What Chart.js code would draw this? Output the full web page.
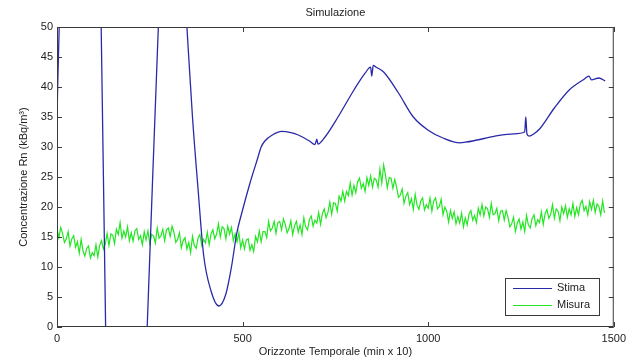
<!DOCTYPE html>
<html>
<head>
<meta charset="utf-8">
<script src="https://cdn.jsdelivr.net/npm/chart.js@4.4.1/dist/chart.umd.min.js"></script>
<style>
  html, body { margin: 0; padding: 0; background: #fff; }
  #wrap { width: 631px; height: 362px; }
</style>
</head>
<body>
<div id="wrap"><canvas id="js--grafico"></canvas></div>
<script>
const titolo = "Simulazione";
const labelX = "Orizzonte Temporale (min x 10)";
const labelY = "Concentrazione Rn (kBq/m³)";
const serieNomi = ["Stima", "Misura"];
const ticksX = [0, 500, 1000, 1500];
const ticksY = [0, 5, 10, 15, 20, 25, 30, 35, 40, 45, 50];

// stima: tempo e valore (fuori scala viene tagliato)
const stimaT = [0, 8, 40, 80, 110, 119, 131, 150, 190, 230, 243, 273, 290, 320, 345, 350, 365, 380, 395, 415, 436, 455, 470, 484, 500, 520, 540, 550, 560, 580, 605, 630, 650, 680, 695, 700, 703, 720, 757, 800, 830, 845, 848, 852, 860, 880, 920, 960, 1000, 1040, 1086, 1100, 1120, 1180, 1230, 1260, 1263, 1266, 1272, 1285, 1300, 1340, 1380, 1420, 1433, 1440, 1460, 1477];
const stimaV = [35, 55, 85, 70, 57, 50, 0, -20, -40, -15, 0, 50, 65, 70, 55, 50, 35, 23, 12, 6, 3.5, 5.5, 10, 15.5, 19.5, 24, 28, 30, 31, 32, 32.6, 32.4, 32, 31, 30.4, 31.3, 30.5, 31.5, 35, 39.5, 42.3, 43.3, 41.8, 43.6, 43.3, 42.5, 39, 35, 32.8, 31.5, 30.7, 30.8, 31, 31.8, 32.2, 32.5, 35, 32.2, 31.8, 32.2, 33, 36.5, 39.5, 41.3, 41.8, 41.2, 41.5, 41];

// misura: un valore ogni 5 passi, da 0
const misuraPasso = 5;
const misuraV = [
  16.3,14.9,16.6,15.6,14.1,14.7,15.9,13.5,14.7,15.2,13.3,14.2,12.3,14.6,12.7,11.8,13.1,13.5,11.5,12.4,
  11.9,13.7,11.7,13.6,14.4,13.0,13.8,15.6,13.6,15.5,15.3,13.9,16.3,15.4,17.4,14.8,16.0,15.0,16.7,14.4,
  15.7,14.3,16.0,16.4,14.6,15.2,13.7,15.9,14.5,16.0,13.9,15.4,15.2,14.0,16.5,14.8,15.2,16.3,14.4,16.2,
  16.5,15.1,16.8,15.8,14.1,14.6,15.7,13.2,14.4,14.9,13.0,14.1,12.4,15.1,13.6,13.1,14.8,15.4,13.6,14.6,
  14.0,15.8,13.7,15.5,16.2,14.7,15.5,17.2,15.0,16.7,16.4,14.7,16.8,15.5,16.6,14.4,15.5,14.2,15.7,13.2,
  14.5,13.0,14.5,14.7,12.8,13.7,12.6,15.1,14.2,16.0,14.2,15.9,15.9,14.9,17.6,16.0,16.5,17.6,15.6,17.4,
  17.6,16.2,18.0,17.1,15.7,16.4,17.7,15.4,16.9,17.6,15.8,17.0,15.4,18.2,16.7,16.2,17.9,18.5,16.8,17.8,
  17.3,19.1,17.1,18.9,19.7,18.2,19.1,20.8,18.8,20.7,20.6,19.3,21.8,21.0,22.6,21.0,22.6,21.9,24.0,22.0,
  23.6,22.4,24.2,24.8,23.1,23.9,22.6,24.9,23.6,25.2,23.3,24.8,24.5,23.3,26.3,24.0,27.0,25.3,23.2,24.9,
  24.8,23.1,24.6,23.3,21.6,22.0,23.0,20.6,21.8,22.4,20.4,21.4,19.6,22.1,20.3,19.6,21.0,21.5,19.5,20.4,
  19.8,21.5,19.3,21.0,21.5,19.7,20.1,21.3,18.7,20.0,19.3,17.5,19.4,18.1,19.2,17.2,18.4,17.3,19.0,16.7,
  18.2,17.0,18.8,19.4,17.8,18.6,17.4,19.8,18.7,20.4,18.5,20.0,19.7,18.3,20.6,18.7,18.9,19.8,17.7,19.3,
  19.4,17.8,19.4,18.3,16.7,17.2,18.3,15.9,17.3,18.0,16.3,17.5,15.9,18.6,17.0,16.5,18.1,18.7,16.9,17.9,
  17.4,19.2,17.1,18.9,19.6,18.1,18.8,20.4,18.1,19.7,19.3,17.7,20.0,18.9,20.2,18.3,19.7,18.7,20.6,18.4,
  19.9,18.7,20.5,21.1,19.4,20.1,18.7,20.9,19.6,21.1,19.1,20.5,20.1,18.7,21.0,19.0
];

const font = "'Liberation Sans', Arial, sans-serif";
const testo = "#222";
const assi = "#3a3a3a";

const stimaData = stimaT.map(function(t, i){ return {x: t, y: stimaV[i]}; });
const misuraData = misuraV.map(function(v, i){ return {x: i * misuraPasso, y: v}; });

// box + tacche verso l'interno, titolo e legenda (stile matlab)
const matlabStyle = {
  id: "matlabStyle",
  afterDraw: function(chart){
    const ctx = chart.ctx;
    const a = chart.chartArea;
    const sx = chart.scales.x;
    const sy = chart.scales.y;
    const tl = 5;
    ctx.save();
    ctx.strokeStyle = assi;
    ctx.lineWidth = 1;
    ctx.strokeRect(a.left + 0.5, a.top + 0.5, a.right - a.left - 1, a.bottom - a.top - 1);
    ctx.beginPath();
    ticksX.forEach(function(v){
      const px = Math.round(sx.getPixelForValue(v)) + 0.5;
      ctx.moveTo(px, a.bottom); ctx.lineTo(px, a.bottom - tl);
      ctx.moveTo(px, a.top); ctx.lineTo(px, a.top + tl);
    });
    ticksY.forEach(function(v){
      const py = Math.round(sy.getPixelForValue(v)) + 0.5;
      ctx.moveTo(a.left, py); ctx.lineTo(a.left + tl, py);
      ctx.moveTo(a.right, py); ctx.lineTo(a.right - tl, py);
    });
    ctx.stroke();

    // titolo
    ctx.fillStyle = testo;
    ctx.font = "11px " + font;
    ctx.textAlign = "center";
    ctx.textBaseline = "middle";
    ctx.fillText(titolo, (a.left + a.right) / 2, 13);

    // legenda
    const lx = 505, ly = 278, lw = 94, lh = 37;
    ctx.fillStyle = "#fff";
    ctx.fillRect(lx, ly, lw, lh);
    ctx.strokeStyle = assi;
    ctx.strokeRect(lx + 0.5, ly + 0.5, lw, lh);
    chart.data.datasets.forEach(function(ds, i){
      const yy = ly + 10 + i * 17;
      ctx.strokeStyle = ds.borderColor;
      ctx.lineWidth = 1.2;
      ctx.beginPath();
      ctx.moveTo(lx + 8, yy + 0.5); ctx.lineTo(lx + 47, yy + 0.5);
      ctx.stroke();
      ctx.fillStyle = testo;
      ctx.textAlign = "left";
      ctx.fillText(ds.label, lx + 52, yy);
    });
    ctx.restore();
  }
};

const grafico = new Chart(document.getElementById("js--grafico"), {
  type: "line",
  data: {
    datasets: [
      {label: serieNomi[0], data: stimaData, borderColor: "#2a2aa8", borderWidth: 1.3, pointRadius: 0, cubicInterpolationMode: "monotone"},
      {label: serieNomi[1], data: misuraData, borderColor: "#22e622", borderWidth: 1.2, pointRadius: 0, tension: 0}
    ]
  },
  options: {
    responsive: true,
    maintainAspectRatio: false,
    animation: false,
    events: [],
    layout: {padding: {left: 0, right: 13, top: 27, bottom: 0}},
    plugins: {legend: {display: false}, title: {display: false}, tooltip: {enabled: false}},
    scales: {
      x: {
        type: "linear", min: 0, max: 1500,
        afterBuildTicks: function(s){ s.ticks = ticksX.map(function(v){ return {value: v}; }); },
        afterFit: function(s){ s.height = 35; },
        grid: {display: false, drawTicks: false},
        border: {display: false},
        ticks: {color: testo, font: {family: font, size: 11}, padding: 5, maxRotation: 0,
                callback: function(v){ return String(v); }},
        title: {display: true, text: labelX, color: testo, font: {family: font, size: 11}, padding: {top: 0, bottom: 3.5}}
      },
      y: {
        min: 0, max: 50,
        afterBuildTicks: function(s){ s.ticks = ticksY.map(function(v){ return {value: v}; }); },
        afterFit: function(s){ s.width = 57; },
        grid: {display: false, drawTicks: false},
        border: {display: false},
        ticks: {color: testo, font: {family: font, size: 11}, padding: 4,
                callback: function(v){ return String(v); }},
        title: {display: true, text: labelY, color: testo, font: {family: font, size: 11}, padding: {top: 17.5, bottom: 0}}
      }
    }
  },
  plugins: [matlabStyle]
});
</script>
</body>
</html>
